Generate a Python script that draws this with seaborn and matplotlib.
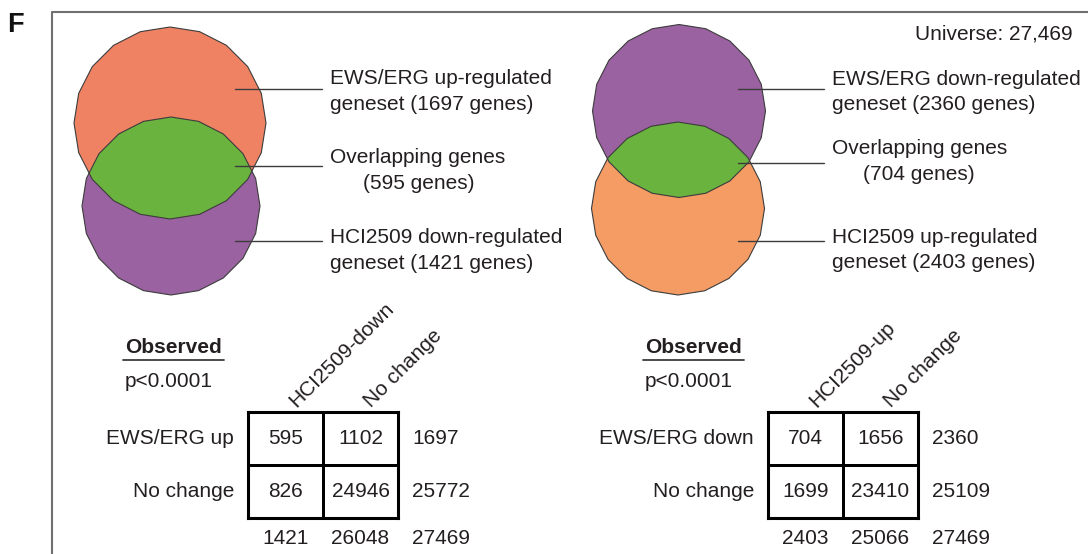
import numpy as np
import matplotlib
matplotlib.use("Agg")
import matplotlib.pyplot as plt
from matplotlib.colors import ListedColormap
from matplotlib.patches import Polygon
import seaborn as sns

# ---- data -------------------------------------------------------------
universe = 27469

left_sets = [["EWS/ERG up-regulated", "geneset (1697 genes)"],
             ["Overlapping genes", "(595 genes)"],
             ["HCI2509 down-regulated", "geneset (1421 genes)"]]
right_sets = [["EWS/ERG down-regulated", "geneset (2360 genes)"],
              ["Overlapping genes", "(704 genes)"],
              ["HCI2509 up-regulated", "geneset (2403 genes)"]]

left_rows = ["EWS/ERG up", "No change"]
left_cols = ["HCI2509-down", "No change"]
left_counts = [[595, 1102],
               [826, 24946]]

right_rows = ["EWS/ERG down", "No change"]
right_cols = ["HCI2509-up", "No change"]
right_counts = [[704, 1656],
                [1699, 23410]]

p_label = "p<0.0001"

# ---- style ------------------------------------------------------------
sns.set_theme(style="white")
plt.rcParams["font.family"] = ["Liberation Sans", "DejaVu Sans"]
TXT = "#231f20"
FS = 15

W, H = 1088, 554
fig = plt.figure(figsize=(W / 100, H / 100), dpi=100)
ax = fig.add_axes([0, 0, 1, 1])
ax.set_xlim(0, W)
ax.set_ylim(H, 0)
ax.axis("off")

# panel letter and frame
ax.text(7, 32, "F", fontsize=19.5, fontweight="bold", color="#111111",
        va="baseline")
ax.plot([52, 52, W], [H, 11.5, 11.5], color="#707070", lw=1.5,
        solid_capstyle="butt")


def ngon(cx, cy, r, n=20):
    ang = np.deg2rad(90 + np.arange(n) * 360.0 / n)
    return np.column_stack([cx + r * np.cos(ang), cy - r * np.sin(ang)])


def venn(top, bottom, top_color, bottom_color, lens_color="#6ab33e"):
    pt = ngon(*top)
    pb = ngon(*bottom)
    edge = "#3c3c3c"
    ax.add_patch(Polygon(pb, closed=True, fc=bottom_color, ec="none"))
    ax.add_patch(Polygon(pt, closed=True, fc=top_color, ec="none"))
    clip = Polygon(pt, closed=True, fc="none", ec="none")
    ax.add_patch(clip)
    lens = Polygon(pb, closed=True, fc=lens_color, ec="none")
    ax.add_patch(lens)
    lens.set_clip_path(clip)
    ax.add_patch(Polygon(pb, closed=True, fc="none", ec=edge, lw=0.8))
    ax.add_patch(Polygon(pt, closed=True, fc="none", ec=edge, lw=0.8))


def venn_labels(x0, x1, tx, ys, labels, indent_x, baselines):
    for y in ys:
        ax.plot([x0, x1], [y, y], color="#3c3c3c", lw=1.0)
    for k, (first, second) in enumerate(labels):
        b1, b2 = baselines[k]
        ax.text(tx, b1, first, fontsize=FS, color=TXT, va="baseline")
        x2 = indent_x if k == 1 else tx
        ax.text(x2, b2, second, fontsize=FS, color=TXT, va="baseline")


# left Venn: EWS/ERG up vs HCI2509 down
venn((170, 123, 96), (171, 206, 89), "#f08264", "#9a62a0")
venn_labels(235, 322, 330, [89, 166, 241], left_sets, 363,
            [(84, 110), (163, 189), (243, 269)])

# right Venn: EWS/ERG down vs HCI2509 up
venn((679, 111, 86.5), (678, 208.5, 86.5), "#9a62a0", "#f59c64")
venn_labels(738, 824, 832, [89, 163, 241], right_sets, 863,
            [(85, 110), (154, 180), (243, 268)])

ax.text(1073, 39, f"Universe: {universe:,}", fontsize=FS, color=TXT,
        ha="right", va="baseline")


def table(x_left, rows, cols, counts):
    counts = np.asarray(counts)
    tx, ty, tw, th = x_left, 412, 150, 106
    hax = fig.add_axes([tx / W, 1 - (ty + th) / H, tw / W, th / H])
    sns.heatmap(counts, ax=hax, cmap=ListedColormap(["white"]), cbar=False,
                annot=True, fmt="d", linewidths=2, linecolor="black",
                xticklabels=False, yticklabels=rows,
                annot_kws={"fontsize": FS, "color": TXT})
    for s in hax.spines.values():
        s.set_visible(True)
        s.set_linewidth(2.2)
        s.set_color("black")
    hax.tick_params(axis="y", length=0, pad=10, labelsize=FS,
                    labelcolor=TXT, rotation=0)

    # column headers, rotated
    for j, name in enumerate(cols):
        hax.text(j + 0.64, -0.08, name, rotation=45, rotation_mode="anchor",
                 ha="left", va="baseline", fontsize=FS, color=TXT)
    # row totals
    for i, v in enumerate(counts.sum(axis=1)):
        hax.text(2.19, i + 0.5, str(v), ha="left", va="center",
                 fontsize=FS, color=TXT)
    # column totals and grand total
    for j, v in enumerate(counts.sum(axis=0)):
        hax.text(j + 0.5, 2.38, str(v), ha="center", va="center",
                 fontsize=FS, color=TXT)
    hax.text(2.19, 2.38, str(counts.sum()), ha="left", va="center",
             fontsize=FS, color=TXT)

    # heading
    ox = x_left - 123
    ax.text(ox, 353, "Observed", fontsize=FS, fontweight="bold", color=TXT,
            va="baseline")
    ax.plot([ox - 2, ox + 99], [360, 360], color="#3c3c3c", lw=1.3)
    ax.text(ox, 387, p_label, fontsize=FS, color=TXT, va="baseline")


table(248, left_rows, left_cols, left_counts)
table(768, right_rows, right_cols, right_counts)

fig.savefig("out.png", dpi=100, facecolor="white")
